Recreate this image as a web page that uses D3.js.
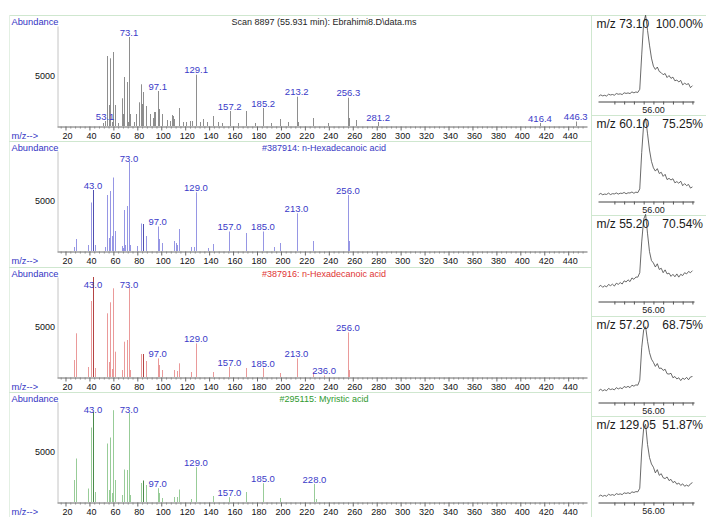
<!DOCTYPE html>
<html>
<head>
<meta charset="utf-8">
<script src="https://cdn.jsdelivr.net/npm/d3@7"></script>
<style>
  html, body { margin: 0; padding: 0; background: #ffffff; }
  svg { display: block; font-family: "Liberation Sans", Arial, sans-serif; }
</style>
</head>
<body>
<svg id="chart" width="706" height="517"></svg>
<script>
// ---------- sample scan ----------
const scanTitle = "Scan 8897 (55.931 min): Ebrahimi8.D\\data.ms";
const scanMz = [51, 53.1, 55, 56, 57, 59, 60, 61, 64, 67, 68, 69, 71, 72, 73.1, 74, 77, 79, 81, 83,
  84, 85, 87, 91, 93, 94, 95, 97.1, 98, 101, 105, 107, 109, 110, 111, 115, 118, 121, 124, 126,
  129.1, 132, 135, 138, 143, 147, 151, 157.2, 164, 171, 178, 185.2, 192, 199, 206, 213.2, 214, 227, 239, 256.3,
  257, 263, 281.2, 416.4, 446.3];
const scanAbund = [300, 500, 7000, 2100, 6770, 400, 7400, 2100, 300, 2770, 1200, 4900, 4400, 400, 8900, 1200, 400, 1200, 2370, 4170,
  2200, 3400, 2000, 1200, 800, 1400, 1400, 3500, 1700, 1200, 600, 500, 1100, 1000, 700, 1800, 400, 400, 500, 500,
  5130, 400, 700, 400, 1000, 400, 300, 1500, 300, 1500, 300, 1800, 300, 700, 400, 2930, 400, 800, 300, 2830,
  800, 600, 400, 300, 450];
const scanLabels = [53.1, 73.1, 97.1, 129.1, 157.2, 185.2, 213.2, 256.3, 281.2, 416.4, 446.3];

// ---------- library hit #387914 ----------
const hit1Title = "#387914: n-Hexadecanoic acid";
const hit1Mz = [27, 29, 39, 41, 43, 45, 53, 55, 56, 57, 59, 60, 61, 67, 68, 69, 70, 71, 73, 74,
  80, 83, 85, 87, 97, 98, 101, 111, 112, 113, 115, 125, 127, 129, 139, 143, 157, 171, 185, 194,
  199, 213, 227, 256, 257];
const hit1Abund = [400, 1200, 600, 4850, 6100, 600, 400, 5600, 1300, 6000, 1500, 7350, 2000, 500, 300, 4100, 600, 4500, 8900, 600,
  500, 2750, 2700, 1500, 2450, 1200, 800, 1000, 800, 600, 2200, 400, 400, 5870, 300, 700, 1950, 1800, 1950, 400,
  800, 3770, 1000, 5600, 1000];
const hit1Labels = [43, 73, 97, 129, 157, 185, 213, 256];

// ---------- library hit #387916 ----------
const hit2Title = "#387916: n-Hexadecanoic acid";
const hit2Mz = [27, 29, 39, 41, 43, 45, 55, 56, 57, 59, 60, 61, 67, 69, 71, 73, 74, 83, 85, 87,
  97, 98, 101, 111, 113, 115, 125, 129, 143, 157, 171, 185, 199, 213, 227, 236, 256, 257];
const hit2Abund = [1700, 4370, 1000, 7600, 9999, 900, 6370, 1500, 7470, 800, 8870, 2530, 700, 3530, 3700, 8950, 700, 2300, 2300, 1600,
  1860, 1200, 700, 700, 600, 1370, 500, 3360, 500, 1020, 900, 920, 400, 1860, 500, 150, 4460, 700];
const hit2Labels = [43, 73, 97, 129, 157, 185, 213, 236, 256];

// ---------- library hit #295115 ----------
const hit3Title = "#295115: Myristic acid";
const hit3Mz = [27, 29, 39, 41, 43, 45, 55, 56, 57, 59, 60, 61, 67, 69, 71, 73, 74, 83, 85, 87,
  97, 98, 101, 111, 113, 115, 125, 129, 143, 157, 171, 185, 199, 228, 229];
const hit3Abund = [2200, 4350, 1350, 7450, 9000, 1000, 5850, 1200, 6450, 900, 9180, 2200, 700, 3250, 3200, 8900, 700, 1900, 2150, 1700,
  1380, 900, 400, 500, 500, 1250, 300, 3480, 600, 480, 1000, 1880, 400, 1810, 300];
const hit3Labels = [43, 73, 97, 129, 157, 185, 228];

// ions drawn in a darker shade in the library spectra
const hitDarkIons = [43, 85];

// m/z axis
const mzTicks = [20, 40, 60, 80, 100, 120, 140, 160, 180, 200, 220, 240, 260, 280, 300, 320, 340, 360, 380, 400, 420, 440];
const abundTicks = [5000];

// ---------- extracted ion chromatograms ----------
const ionMz = ["73.10", "60.10", "55.20", "57.20", "129.05"];
const ionPct = ["100.00%", "75.25%", "70.54%", "68.75%", "51.87%"];
const ionTimeTicks = [55.80, 55.85, 55.90, 55.95, 56.00, 56.05, 56.10, 56.15, 56.20];
const ionTimeLabel = 56.00;
const scanTimes = [55.72, 55.73, 55.74, 55.75, 55.76, 55.77, 55.78, 55.79, 55.80, 55.81,
  55.82, 55.83, 55.84, 55.85, 55.86, 55.87, 55.88, 55.89, 55.90, 55.91,
  55.92, 55.93, 55.94, 55.95, 55.96, 55.97, 55.98, 55.99, 56.00, 56.01,
  56.02, 56.03, 56.04, 56.05, 56.06, 56.07, 56.08, 56.09, 56.10, 56.11,
  56.12, 56.13, 56.14, 56.15, 56.16, 56.17, 56.18, 56.19, 56.20];
const eic73 = [1.0, 2.6, 1.4, 2.1, 1.2, 3.4, 2.5, 3.1, 2.2, 4.3,
  3.4, 3.9, 3.0, 5.2, 4.4, 5.0, 4.2, 6.3, 5.1, 6.2,
  5.6, 9.5, 52, 92, 101, 82, 64, 48, 38, 34,
  37, 31.5, 30, 27.5, 29, 24, 26.5, 23, 24.5, 20,
  21, 18.5, 20.5, 15, 17, 15.5, 16.5, 11.5, 14];
const eic60 = [3.0, 4.4, 2.8, 3.6, 3.2, 4.8, 3.0, 4.1, 3.8, 5.0,
  3.6, 4.7, 4.4, 5.6, 4.0, 5.2, 4.9, 6.2, 4.6, 6.0,
  5.4, 10, 55, 90, 97, 78, 58, 44, 36, 32,
  35, 29, 30.5, 25.5, 28, 21.5, 23, 21, 22.5, 17.5,
  19, 17, 19.5, 14, 16.5, 14, 15.5, 11, 12.5];
const eic55 = [12.5, 14.5, 12.0, 13.8, 12.5, 15.5, 14.0, 15.8, 13.5, 17.0,
  15.6, 17.8, 16.0, 20.0, 18.5, 21.2, 19.0, 23.5, 21.8, 24.6,
  24.5, 30, 68, 96, 102, 78, 56, 45, 42, 37,
  41, 34, 35.5, 30, 33.5, 28.5, 29.5, 25.5, 28, 25,
  28.5, 24.5, 28, 26.5, 30, 28.5, 31.5, 30, 32.5];
const eic57 = [9.0, 10.8, 8.8, 10.2, 9.0, 11.8, 10.4, 11.2, 10.0, 12.8,
  11.2, 12.6, 11.4, 14.2, 13.0, 14.4, 12.8, 15.8, 14.6, 16.2,
  15.8, 22, 62, 84, 88, 70, 56, 48, 44, 39,
  42.5, 36.5, 37, 34, 35.5, 30, 29.5, 30.5, 25, 26.5,
  23.5, 25, 21.5, 24.5, 23, 25.5, 22.5, 26, 26.5];
const eic129 = [2.0, 3.6, 2.1, 3.2, 2.2, 4.6, 3.4, 4.2, 3.2, 5.4,
  4.4, 5.1, 4.2, 6.4, 5.6, 6.5, 5.4, 7.6, 6.8, 7.9,
  7.6, 12, 58, 86, 91, 66, 50, 42, 38, 31,
  35, 28, 30, 25, 24, 26, 21.5, 23, 19, 20.5,
  17, 18.5, 15.5, 17.5, 14.5, 16, 14.5, 17.5, 19];

// ---------- drawing ----------
const svg = d3.select("#chart");
const FONT = '"Liberation Sans", Arial, sans-serif';
const blueText = "#3434c4";
const frameColor = "#cfe7cf";

const spectra = [
  { title: scanTitle, titleColor: "#1e1e1e", mz: scanMz, ab: scanAbund, labels: scanLabels, dark: [], bar: "#8e8e8e", barDark: "#8e8e8e" },
  { title: hit1Title, titleColor: "#3838c4", mz: hit1Mz, ab: hit1Abund, labels: hit1Labels, dark: hitDarkIons, bar: "#9696e4", barDark: "#5050b0" },
  { title: hit2Title, titleColor: "#e03434", mz: hit2Mz, ab: hit2Abund, labels: hit2Labels, dark: hitDarkIons, bar: "#ea9a9a", barDark: "#b44444" },
  { title: hit3Title, titleColor: "#2f9a2f", mz: hit3Mz, ab: hit3Abund, labels: hit3Labels, dark: hitDarkIons, bar: "#98cc98", barDark: "#4a8a4a" }
];
const fmtMz = d3.format(".1f");

const x = d3.scaleLinear().domain([12.9, 455.7]).range([57, 587]);
const panelStep = 125.4;
const minorTicks = d3.range(16, 456, 4).filter(v => v % 20 !== 0);

// frame lines
svg.append("line").attr("x1", 9).attr("x2", 706).attr("y1", 15.5).attr("y2", 15.5)
  .attr("stroke", frameColor).attr("stroke-width", 1);
svg.append("line").attr("x1", 9.5).attr("x2", 9.5).attr("y1", 15).attr("y2", 517)
  .attr("stroke", "#e3f0e3").attr("stroke-width", 1);
svg.append("line").attr("x1", 591.5).attr("x2", 591.5).attr("y1", 15).attr("y2", 517)
  .attr("stroke", frameColor).attr("stroke-width", 1);

spectra.forEach((p, i) => {
  const base = Math.round(126 + panelStep * i);
  const top = i === 0 ? 15 : base - 110;
  const y = d3.scaleLinear().domain([0, 10000]).range([base, base - 100]);
  const g = svg.append("g");

  if (i > 0) {
    g.append("line").attr("x1", 9).attr("x2", 591).attr("y1", top + 0.5).attr("y2", top + 0.5)
      .attr("stroke", frameColor);
  }

  // headings
  g.append("text").attr("x", 11.5).attr("y", top + 10).attr("font-size", 9.3).attr("fill", blueText).text("Abundance");
  g.append("text").attr("x", 324).attr("y", top + 10.2).attr("text-anchor", "middle").attr("font-size", 9)
    .attr("fill", p.titleColor).text(p.title);
  g.append("text").attr("x", 11.5).attr("y", base + 12.9).attr("font-size", 9.3).attr("fill", blueText).text("m/z-->");

  // abundance axis
  const yAxis = g.append("g").attr("transform", "translate(57.5,0)")
    .call(d3.axisLeft(y).tickValues(abundTicks).tickSize(0).tickPadding(2.5).tickFormat(d3.format("d")));
  yAxis.select(".domain").attr("stroke", "#c4c4c4");
  yAxis.selectAll("text").attr("font-family", FONT).attr("font-size", 9).attr("fill", "#111");

  // peaks
  const peaks = p.mz.map((m, k) => ({ mz: m, ab: p.ab[k] }));
  g.selectAll("line.peak").data(peaks).enter().append("line")
    .attr("class", "peak")
    .attr("x1", d => Math.round(x(d.mz)) + 0.5).attr("x2", d => Math.round(x(d.mz)) + 0.5)
    .attr("y1", base).attr("y2", d => y(d.ab))
    .attr("stroke", d => p.dark.includes(Math.round(d.mz)) ? p.barDark : p.bar)
    .attr("stroke-width", 1);

  // m/z axis
  const xAxis = g.append("g").attr("transform", `translate(0,${base + 0.5})`)
    .call(d3.axisBottom(x).tickValues(mzTicks).tickSize(4).tickSizeOuter(0).tickPadding(2));
  xAxis.select(".domain").attr("stroke", "#6a6a6a");
  xAxis.selectAll(".tick line").attr("stroke", "#6a6a6a");
  xAxis.selectAll("text").attr("font-family", FONT).attr("font-size", 9).attr("fill", "#111").attr("dx", 1.5);
  const xMinor = g.append("g").attr("transform", `translate(0,${base + 0.5})`)
    .call(d3.axisBottom(x).tickValues(minorTicks).tickSize(2).tickSizeOuter(0).tickFormat(""));
  xMinor.select(".domain").remove();
  xMinor.selectAll(".tick line").attr("stroke", "#8a8a8a");

  // peak labels
  const labelled = peaks.filter(d => p.labels.includes(d.mz));
  g.selectAll("text.plabel").data(labelled).enter().append("text")
    .attr("class", "plabel")
    .attr("x", d => x(d.mz)).attr("y", d => Math.max(y(d.ab) - 1.3, top + 20.5))
    .attr("text-anchor", "middle").attr("font-size", 9.5).attr("fill", "#3a3ac8")
    .text(d => fmtMz(d.mz));
});

// ion chromatograms
const ionCurves = [eic73, eic60, eic55, eic57, eic129];
const t = d3.scaleLinear().domain([55.716, 56.208]).range([598, 694]);
const ionStep = 100.2;
ionCurves.forEach((vals, j) => {
  const top = Math.round(15 + ionStep * j);
  const g = svg.append("g");
  if (j > 0) {
    g.append("line").attr("x1", 591).attr("x2", 706).attr("y1", top + 0.5).attr("y2", top + 0.5)
      .attr("stroke", frameColor);
  }
  const yi = d3.scaleLinear().domain([0, 100]).range([top + 82, top + 1]);
  const line = d3.line().x((d, k) => t(scanTimes[k])).y(d => yi(d));
  g.append("path").attr("d", line(vals)).attr("fill", "none").attr("stroke", "#444").attr("stroke-width", 0.8);

  const axisY = top + 86.5;
  const ax = g.append("g").attr("transform", `translate(0,${axisY})`)
    .call(d3.axisBottom(t).tickValues(ionTimeTicks).tickSize(3).tickSizeOuter(0).tickFormat(""));
  ax.select(".domain").attr("stroke", "#444");
  ax.selectAll(".tick line").attr("stroke", "#555");
  g.append("text").attr("x", t(ionTimeLabel)).attr("y", top + 98).attr("text-anchor", "middle")
    .attr("font-size", 9).attr("fill", "#222").text(d3.format(".2f")(ionTimeLabel));

  g.append("text").attr("x", 596.5).attr("y", top + 12.5).attr("font-size", 12).attr("fill", "#1a1a1a")
    .text("m/z " + ionMz[j]);
  g.append("text").attr("x", 703).attr("y", top + 12.5).attr("text-anchor", "end").attr("font-size", 12).attr("fill", "#1a1a1a")
    .text(ionPct[j]);
});
</script>
</body>
</html>
